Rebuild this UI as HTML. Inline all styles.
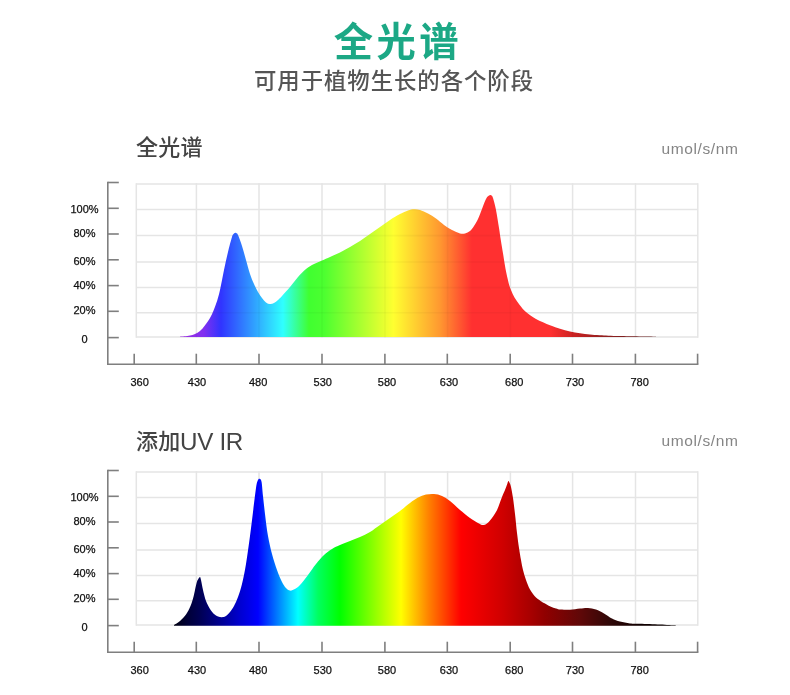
<!DOCTYPE html>
<html lang="zh-CN">
<head>
<meta charset="utf-8">
<title>全光谱</title>
<style>
html,body{margin:0;padding:0;background:#fff;}
body{width:790px;height:695px;position:relative;overflow:hidden;font-family:"Liberation Sans","Noto Sans CJK SC",sans-serif;}
svg{position:absolute;left:0;top:0;display:block;}
.ax text{font-family:"Liberation Sans",sans-serif;font-size:11px;fill:#111;stroke:#111;stroke-width:0.25px;}
.t{position:absolute;white-space:nowrap;line-height:1;}
#title{left:2.8px;width:790px;text-align:center;top:22.6px;font-size:39.3px;font-weight:bold;color:#1ca885;letter-spacing:3.4px;}
#sub{left:-1px;width:790px;text-align:center;top:71.2px;font-size:22.4px;font-weight:500;color:#555;letter-spacing:0.95px;}
.h{font-size:22px;color:#444;left:136px;letter-spacing:0.3px;font-weight:500;}
.h span{position:relative;top:1.1px;left:-0.5px;font-size:24.2px;font-weight:400;letter-spacing:-0.35px;font-family:"Liberation Sans",sans-serif;}
.u{font-size:15.5px;color:#858585;right:51.6px;font-family:"Liberation Sans",sans-serif;letter-spacing:0.6px;}
</style>
</head>
<body>
<svg width="790" height="695" viewBox="0 0 790 695"><defs><linearGradient id="g1" gradientUnits="userSpaceOnUse" x1="180" y1="0" x2="656" y2="0"><stop offset="0.0000" stop-color="#a030e0"/><stop offset="0.0504" stop-color="#8030f0"/><stop offset="0.0861" stop-color="#3034ff"/><stop offset="0.2164" stop-color="#30ffff"/><stop offset="0.2710" stop-color="#40ff30"/><stop offset="0.3025" stop-color="#4cff30"/><stop offset="0.4485" stop-color="#ffff30"/><stop offset="0.5462" stop-color="#ff9830"/><stop offset="0.6134" stop-color="#ff3030"/><stop offset="0.7773" stop-color="#ff3030"/><stop offset="0.8298" stop-color="#c82222"/><stop offset="0.8824" stop-color="#982020"/><stop offset="1.0000" stop-color="#602020"/></linearGradient><linearGradient id="g2" gradientUnits="userSpaceOnUse" x1="174" y1="0" x2="676" y2="0"><stop offset="0.0000" stop-color="#000010"/><stop offset="0.0279" stop-color="#000038"/><stop offset="0.0518" stop-color="#000054"/><stop offset="0.0916" stop-color="#000090"/><stop offset="0.1315" stop-color="#0000d0"/><stop offset="0.1673" stop-color="#0000ff"/><stop offset="0.2470" stop-color="#00ffff"/><stop offset="0.2869" stop-color="#00ff60"/><stop offset="0.3307" stop-color="#00ff00"/><stop offset="0.4522" stop-color="#ffff00"/><stop offset="0.5080" stop-color="#ff8000"/><stop offset="0.5717" stop-color="#ff0000"/><stop offset="0.6534" stop-color="#d00000"/><stop offset="0.7092" stop-color="#a80000"/><stop offset="0.7390" stop-color="#900000"/><stop offset="0.8088" stop-color="#600808"/><stop offset="0.8685" stop-color="#300808"/><stop offset="0.9283" stop-color="#100000"/><stop offset="1.0000" stop-color="#080000"/></linearGradient></defs><g transform="translate(0,0)"><g stroke="#e5e5e5" stroke-width="1.5" fill="none"><line x1="136.3" y1="183.2" x2="136.3" y2="337.8"/><line x1="196.4" y1="183.2" x2="196.4" y2="337.8"/><line x1="259" y1="183.2" x2="259" y2="337.8"/><line x1="322" y1="183.2" x2="322" y2="337.8"/><line x1="385" y1="183.2" x2="385" y2="337.8"/><line x1="447.6" y1="183.2" x2="447.6" y2="337.8"/><line x1="510.4" y1="183.2" x2="510.4" y2="337.8"/><line x1="572.6" y1="183.2" x2="572.6" y2="337.8"/><line x1="635.5" y1="183.2" x2="635.5" y2="337.8"/><line x1="697.8" y1="183.2" x2="697.8" y2="337.8"/><line x1="136.3" y1="184" x2="697.8" y2="184"/><line x1="136.3" y1="209.6" x2="697.8" y2="209.6"/><line x1="136.3" y1="235.6" x2="697.8" y2="235.6"/><line x1="136.3" y1="262" x2="697.8" y2="262"/><line x1="136.3" y1="287.6" x2="697.8" y2="287.6"/><line x1="136.3" y1="312.8" x2="697.8" y2="312.8"/><line x1="136.3" y1="337" x2="697.8" y2="337"/></g><g stroke="#7f7f7f" stroke-width="1.6" fill="none"><path d="M107.8,181.7 V364.3 H698.4"/><line x1="107.8" y1="182.5" x2="118.8" y2="182.5"/><line x1="107.8" y1="208.3" x2="118.8" y2="208.3"/><line x1="107.8" y1="234" x2="118.8" y2="234"/><line x1="107.8" y1="259.8" x2="118.8" y2="259.8"/><line x1="107.8" y1="285.6" x2="118.8" y2="285.6"/><line x1="107.8" y1="311.3" x2="118.8" y2="311.3"/><line x1="107.8" y1="337.6" x2="118.8" y2="337.6"/><line x1="134.2" y1="353.7" x2="134.2" y2="364.3"/><line x1="196.3" y1="353.7" x2="196.3" y2="364.3"/><line x1="259" y1="353.7" x2="259" y2="364.3"/><line x1="322" y1="353.7" x2="322" y2="364.3"/><line x1="384.9" y1="353.7" x2="384.9" y2="364.3"/><line x1="447.3" y1="353.7" x2="447.3" y2="364.3"/><line x1="510.2" y1="353.7" x2="510.2" y2="364.3"/><line x1="572.5" y1="353.7" x2="572.5" y2="364.3"/><line x1="635.4" y1="353.7" x2="635.4" y2="364.3"/><line x1="697.6" y1="353.7" x2="697.6" y2="364.3"/></g></g><g class="ax" transform="translate(0,0)"><text x="139.6" y="385.7" text-anchor="middle">360</text><text x="197" y="385.7" text-anchor="middle">430</text><text x="258.1" y="385.7" text-anchor="middle">480</text><text x="322.8" y="385.7" text-anchor="middle">530</text><text x="387" y="385.7" text-anchor="middle">580</text><text x="449" y="385.7" text-anchor="middle">630</text><text x="514.2" y="385.7" text-anchor="middle">680</text><text x="575" y="385.7" text-anchor="middle">730</text><text x="639.6" y="385.7" text-anchor="middle">780</text><text x="84.5" y="212.8" text-anchor="middle">100%</text><text x="84.5" y="236.9" text-anchor="middle">80%</text><text x="84.5" y="264.8" text-anchor="middle">60%</text><text x="84.5" y="288.7" text-anchor="middle">40%</text><text x="84.5" y="313.9" text-anchor="middle">20%</text><text x="84.5" y="343.1" text-anchor="middle">0</text></g><path d="M180.0,336.7C181.7,336.5 186.7,336.6 190.0,335.6C193.3,334.7 196.7,333.9 200.0,331.0C203.3,328.1 207.3,322.5 210.0,318.0C212.7,313.5 214.3,308.7 216.0,304.0C217.7,299.3 218.7,295.7 220.0,290.0C221.3,284.3 222.7,276.3 224.0,270.0C225.3,263.7 226.7,257.5 228.0,252.0C229.3,246.5 231.0,240.1 232.0,237.0C233.0,233.9 233.3,234.1 234.0,233.4C234.7,232.7 235.3,232.7 236.0,233.0C236.7,233.3 237.0,232.8 238.0,235.0C239.0,237.2 240.7,241.8 242.0,246.0C243.3,250.2 244.7,255.3 246.0,260.0C247.3,264.7 248.7,270.0 250.0,274.0C251.3,278.0 252.7,281.0 254.0,284.0C255.3,287.0 256.7,289.7 258.0,292.0C259.3,294.3 260.7,296.3 262.0,298.0C263.3,299.7 264.7,301.4 266.0,302.4C267.3,303.4 268.7,303.9 270.0,304.0C271.3,304.1 272.7,303.7 274.0,303.0C275.3,302.3 276.7,301.2 278.0,300.0C279.3,298.8 280.0,298.2 282.0,296.0C284.0,293.8 287.3,290.2 290.0,287.0C292.7,283.8 295.3,280.0 298.0,277.0C300.7,274.0 303.3,271.2 306.0,269.0C308.7,266.8 311.3,265.4 314.0,264.0C316.7,262.6 319.3,261.8 322.0,260.6C324.7,259.4 327.0,258.4 330.0,257.0C333.0,255.6 336.7,254.1 340.0,252.4C343.3,250.7 346.7,248.9 350.0,247.0C353.3,245.1 356.7,243.2 360.0,241.0C363.3,238.8 366.7,236.3 370.0,234.0C373.3,231.7 376.7,229.3 380.0,227.0C383.3,224.7 386.7,222.2 390.0,220.0C393.3,217.8 397.0,215.6 400.0,214.0C403.0,212.4 405.7,211.2 408.0,210.4C410.3,209.6 412.0,209.3 414.0,209.2C416.0,209.1 417.7,209.3 420.0,210.0C422.3,210.7 425.3,212.2 428.0,213.6C430.7,215.0 433.3,216.7 436.0,218.6C438.7,220.5 441.3,223.1 444.0,225.0C446.7,226.9 449.3,228.6 452.0,230.0C454.7,231.4 457.8,232.8 460.0,233.4C462.2,234.0 463.3,233.8 465.0,233.4C466.7,233.0 468.5,232.2 470.0,231.0C471.5,229.8 472.7,228.0 474.0,226.0C475.3,224.0 476.7,221.8 478.0,219.0C479.3,216.2 480.7,212.3 482.0,209.0C483.3,205.7 484.8,201.2 486.0,199.0C487.2,196.8 488.2,196.2 489.0,195.6C489.8,195.0 490.3,194.8 491.0,195.2C491.7,195.6 492.2,195.5 493.0,198.0C493.8,200.5 495.0,205.0 496.0,210.0C497.0,215.0 498.2,223.0 499.0,228.0C499.8,233.0 500.1,235.6 500.8,240.0C501.5,244.4 502.4,249.6 503.2,254.4C504.0,259.2 504.6,264.0 505.5,268.8C506.4,273.6 507.8,279.6 508.7,283.2C509.6,286.8 510.2,288.0 511.2,290.4C512.2,292.8 513.1,295.2 514.5,297.6C515.9,300.0 517.6,302.3 519.5,304.7C521.4,307.1 523.2,309.6 526.0,312.0C528.8,314.4 532.0,316.8 536.0,319.0C540.0,321.2 546.0,323.7 550.0,325.3C554.0,326.9 556.7,327.8 560.0,328.8C563.3,329.9 566.7,330.9 570.0,331.6C573.3,332.3 576.7,332.7 580.0,333.2C583.3,333.7 586.7,334.1 590.0,334.4C593.3,334.7 595.0,334.9 600.0,335.2C605.0,335.5 610.7,335.8 620.0,336.0C629.3,336.2 650.0,336.6 656.0,336.7L656.0,337.0 L180.0,337.0 Z" fill="url(#g1)"/><clipPath id="cg1"><path d="M180.0,336.7C181.7,336.5 186.7,336.6 190.0,335.6C193.3,334.7 196.7,333.9 200.0,331.0C203.3,328.1 207.3,322.5 210.0,318.0C212.7,313.5 214.3,308.7 216.0,304.0C217.7,299.3 218.7,295.7 220.0,290.0C221.3,284.3 222.7,276.3 224.0,270.0C225.3,263.7 226.7,257.5 228.0,252.0C229.3,246.5 231.0,240.1 232.0,237.0C233.0,233.9 233.3,234.1 234.0,233.4C234.7,232.7 235.3,232.7 236.0,233.0C236.7,233.3 237.0,232.8 238.0,235.0C239.0,237.2 240.7,241.8 242.0,246.0C243.3,250.2 244.7,255.3 246.0,260.0C247.3,264.7 248.7,270.0 250.0,274.0C251.3,278.0 252.7,281.0 254.0,284.0C255.3,287.0 256.7,289.7 258.0,292.0C259.3,294.3 260.7,296.3 262.0,298.0C263.3,299.7 264.7,301.4 266.0,302.4C267.3,303.4 268.7,303.9 270.0,304.0C271.3,304.1 272.7,303.7 274.0,303.0C275.3,302.3 276.7,301.2 278.0,300.0C279.3,298.8 280.0,298.2 282.0,296.0C284.0,293.8 287.3,290.2 290.0,287.0C292.7,283.8 295.3,280.0 298.0,277.0C300.7,274.0 303.3,271.2 306.0,269.0C308.7,266.8 311.3,265.4 314.0,264.0C316.7,262.6 319.3,261.8 322.0,260.6C324.7,259.4 327.0,258.4 330.0,257.0C333.0,255.6 336.7,254.1 340.0,252.4C343.3,250.7 346.7,248.9 350.0,247.0C353.3,245.1 356.7,243.2 360.0,241.0C363.3,238.8 366.7,236.3 370.0,234.0C373.3,231.7 376.7,229.3 380.0,227.0C383.3,224.7 386.7,222.2 390.0,220.0C393.3,217.8 397.0,215.6 400.0,214.0C403.0,212.4 405.7,211.2 408.0,210.4C410.3,209.6 412.0,209.3 414.0,209.2C416.0,209.1 417.7,209.3 420.0,210.0C422.3,210.7 425.3,212.2 428.0,213.6C430.7,215.0 433.3,216.7 436.0,218.6C438.7,220.5 441.3,223.1 444.0,225.0C446.7,226.9 449.3,228.6 452.0,230.0C454.7,231.4 457.8,232.8 460.0,233.4C462.2,234.0 463.3,233.8 465.0,233.4C466.7,233.0 468.5,232.2 470.0,231.0C471.5,229.8 472.7,228.0 474.0,226.0C475.3,224.0 476.7,221.8 478.0,219.0C479.3,216.2 480.7,212.3 482.0,209.0C483.3,205.7 484.8,201.2 486.0,199.0C487.2,196.8 488.2,196.2 489.0,195.6C489.8,195.0 490.3,194.8 491.0,195.2C491.7,195.6 492.2,195.5 493.0,198.0C493.8,200.5 495.0,205.0 496.0,210.0C497.0,215.0 498.2,223.0 499.0,228.0C499.8,233.0 500.1,235.6 500.8,240.0C501.5,244.4 502.4,249.6 503.2,254.4C504.0,259.2 504.6,264.0 505.5,268.8C506.4,273.6 507.8,279.6 508.7,283.2C509.6,286.8 510.2,288.0 511.2,290.4C512.2,292.8 513.1,295.2 514.5,297.6C515.9,300.0 517.6,302.3 519.5,304.7C521.4,307.1 523.2,309.6 526.0,312.0C528.8,314.4 532.0,316.8 536.0,319.0C540.0,321.2 546.0,323.7 550.0,325.3C554.0,326.9 556.7,327.8 560.0,328.8C563.3,329.9 566.7,330.9 570.0,331.6C573.3,332.3 576.7,332.7 580.0,333.2C583.3,333.7 586.7,334.1 590.0,334.4C593.3,334.7 595.0,334.9 600.0,335.2C605.0,335.5 610.7,335.8 620.0,336.0C629.3,336.2 650.0,336.6 656.0,336.7L656.0,337.0 L180.0,337.0 Z"/></clipPath><g clip-path="url(#cg1)"><g stroke="#000" stroke-opacity="0.03" stroke-width="1.6" fill="none" transform="translate(0,0)"><line x1="136.3" y1="184" x2="136.3" y2="337"/><line x1="196.4" y1="184" x2="196.4" y2="337"/><line x1="259" y1="184" x2="259" y2="337"/><line x1="322" y1="184" x2="322" y2="337"/><line x1="385" y1="184" x2="385" y2="337"/><line x1="447.6" y1="184" x2="447.6" y2="337"/><line x1="510.4" y1="184" x2="510.4" y2="337"/><line x1="572.6" y1="184" x2="572.6" y2="337"/><line x1="635.5" y1="184" x2="635.5" y2="337"/><line x1="697.8" y1="184" x2="697.8" y2="337"/><line x1="136.3" y1="184" x2="697.8" y2="184"/><line x1="136.3" y1="209.6" x2="697.8" y2="209.6"/><line x1="136.3" y1="235.6" x2="697.8" y2="235.6"/><line x1="136.3" y1="262" x2="697.8" y2="262"/><line x1="136.3" y1="287.6" x2="697.8" y2="287.6"/><line x1="136.3" y1="312.8" x2="697.8" y2="312.8"/></g></g><g transform="translate(0,288)"><g stroke="#e5e5e5" stroke-width="1.5" fill="none"><line x1="136.3" y1="183.2" x2="136.3" y2="337.8"/><line x1="196.4" y1="183.2" x2="196.4" y2="337.8"/><line x1="259" y1="183.2" x2="259" y2="337.8"/><line x1="322" y1="183.2" x2="322" y2="337.8"/><line x1="385" y1="183.2" x2="385" y2="337.8"/><line x1="447.6" y1="183.2" x2="447.6" y2="337.8"/><line x1="510.4" y1="183.2" x2="510.4" y2="337.8"/><line x1="572.6" y1="183.2" x2="572.6" y2="337.8"/><line x1="635.5" y1="183.2" x2="635.5" y2="337.8"/><line x1="697.8" y1="183.2" x2="697.8" y2="337.8"/><line x1="136.3" y1="184" x2="697.8" y2="184"/><line x1="136.3" y1="209.6" x2="697.8" y2="209.6"/><line x1="136.3" y1="235.6" x2="697.8" y2="235.6"/><line x1="136.3" y1="262" x2="697.8" y2="262"/><line x1="136.3" y1="287.6" x2="697.8" y2="287.6"/><line x1="136.3" y1="312.8" x2="697.8" y2="312.8"/><line x1="136.3" y1="337" x2="697.8" y2="337"/></g><g stroke="#7f7f7f" stroke-width="1.6" fill="none"><path d="M107.8,181.7 V364.3 H698.4"/><line x1="107.8" y1="182.5" x2="118.8" y2="182.5"/><line x1="107.8" y1="208.3" x2="118.8" y2="208.3"/><line x1="107.8" y1="234" x2="118.8" y2="234"/><line x1="107.8" y1="259.8" x2="118.8" y2="259.8"/><line x1="107.8" y1="285.6" x2="118.8" y2="285.6"/><line x1="107.8" y1="311.3" x2="118.8" y2="311.3"/><line x1="107.8" y1="337.6" x2="118.8" y2="337.6"/><line x1="134.2" y1="353.7" x2="134.2" y2="364.3"/><line x1="196.3" y1="353.7" x2="196.3" y2="364.3"/><line x1="259" y1="353.7" x2="259" y2="364.3"/><line x1="322" y1="353.7" x2="322" y2="364.3"/><line x1="384.9" y1="353.7" x2="384.9" y2="364.3"/><line x1="447.3" y1="353.7" x2="447.3" y2="364.3"/><line x1="510.2" y1="353.7" x2="510.2" y2="364.3"/><line x1="572.5" y1="353.7" x2="572.5" y2="364.3"/><line x1="635.4" y1="353.7" x2="635.4" y2="364.3"/><line x1="697.6" y1="353.7" x2="697.6" y2="364.3"/></g></g><g class="ax" transform="translate(0,288)"><text x="139.6" y="385.7" text-anchor="middle">360</text><text x="197" y="385.7" text-anchor="middle">430</text><text x="258.1" y="385.7" text-anchor="middle">480</text><text x="322.8" y="385.7" text-anchor="middle">530</text><text x="387" y="385.7" text-anchor="middle">580</text><text x="449" y="385.7" text-anchor="middle">630</text><text x="514.2" y="385.7" text-anchor="middle">680</text><text x="575" y="385.7" text-anchor="middle">730</text><text x="639.6" y="385.7" text-anchor="middle">780</text><text x="84.5" y="212.8" text-anchor="middle">100%</text><text x="84.5" y="236.9" text-anchor="middle">80%</text><text x="84.5" y="264.8" text-anchor="middle">60%</text><text x="84.5" y="288.7" text-anchor="middle">40%</text><text x="84.5" y="313.9" text-anchor="middle">20%</text><text x="84.5" y="343.1" text-anchor="middle">0</text></g><path d="M174.0,625.0C175.0,624.3 178.0,622.8 180.0,621.0C182.0,619.2 184.2,617.0 186.0,614.5C187.8,612.0 189.2,609.1 190.5,606.0C191.8,602.9 192.7,599.8 193.7,596.0C194.7,592.2 195.8,585.8 196.6,583.0C197.4,580.2 197.7,580.0 198.3,579.0C198.9,578.0 199.6,576.8 200.0,577.0C200.4,577.2 200.5,577.8 201.0,580.0C201.5,582.2 202.2,586.5 203.0,590.0C203.8,593.5 204.8,597.8 206.0,601.0C207.2,604.2 208.7,606.8 210.0,609.0C211.3,611.2 212.7,612.8 214.0,614.0C215.3,615.2 216.7,615.9 218.0,616.4C219.3,616.9 220.7,617.3 222.0,617.2C223.3,617.1 224.7,616.9 226.0,616.0C227.3,615.1 228.7,613.7 230.0,612.0C231.3,610.3 232.7,608.5 234.0,606.0C235.3,603.5 236.7,600.7 238.0,597.0C239.3,593.3 240.7,589.5 242.0,584.0C243.3,578.5 244.7,572.0 246.0,564.0C247.3,556.0 248.8,544.7 250.0,536.0C251.2,527.3 252.0,520.0 253.0,512.0C254.0,504.0 255.2,493.3 256.0,488.0C256.8,482.7 257.3,481.5 258.0,480.0C258.7,478.5 259.4,478.7 260.0,479.0C260.6,479.3 261.1,479.2 261.6,482.0C262.1,484.8 262.4,490.7 263.0,496.0C263.6,501.3 264.2,507.3 265.0,514.0C265.8,520.7 266.8,529.3 268.0,536.0C269.2,542.7 270.5,548.3 272.0,554.0C273.5,559.7 275.3,565.3 277.0,570.0C278.7,574.7 280.5,579.0 282.0,582.0C283.5,585.0 284.7,586.6 286.0,588.0C287.3,589.4 288.5,590.4 290.0,590.6C291.5,590.8 293.3,589.9 295.0,589.0C296.7,588.1 297.8,587.3 300.0,585.0C302.2,582.7 305.3,578.5 308.0,575.0C310.7,571.5 313.3,567.3 316.0,564.0C318.7,560.7 321.3,557.5 324.0,555.0C326.7,552.5 329.3,550.7 332.0,549.0C334.7,547.3 337.0,546.3 340.0,545.0C343.0,543.7 346.7,542.3 350.0,541.0C353.3,539.7 356.7,538.5 360.0,537.0C363.3,535.5 366.7,534.0 370.0,532.0C373.3,530.0 376.7,527.3 380.0,525.0C383.3,522.7 386.7,520.3 390.0,518.0C393.3,515.7 396.7,513.5 400.0,511.0C403.3,508.5 407.0,505.2 410.0,503.0C413.0,500.8 415.3,499.0 418.0,497.6C420.7,496.2 423.3,495.2 426.0,494.6C428.7,494.0 431.3,493.8 434.0,494.0C436.7,494.2 439.3,494.8 442.0,496.0C444.7,497.2 447.0,498.7 450.0,501.0C453.0,503.3 456.7,507.2 460.0,510.0C463.3,512.8 467.0,515.8 470.0,518.0C473.0,520.2 475.7,521.8 478.0,523.0C480.3,524.2 482.0,525.4 484.0,525.0C486.0,524.6 487.9,522.9 490.0,520.5C492.1,518.1 494.8,514.4 496.8,510.5C498.8,506.6 500.5,500.7 501.9,497.3C503.2,493.9 504.0,492.6 504.9,490.3C505.8,488.0 506.8,484.9 507.4,483.4C508.0,481.8 508.1,481.1 508.4,481.0C508.7,480.9 509.0,481.6 509.4,482.6C509.8,483.6 510.4,484.4 511.0,487.0C511.6,489.6 512.3,493.5 513.0,498.0C513.7,502.5 514.3,508.2 515.0,514.0C515.7,519.8 516.3,527.3 517.0,533.0C517.7,538.7 518.3,543.5 519.0,548.0C519.7,552.5 520.3,556.3 521.0,560.0C521.7,563.7 522.2,566.7 523.0,570.0C523.8,573.3 524.8,576.8 526.0,580.0C527.2,583.2 528.3,586.6 530.0,589.5C531.7,592.4 534.3,595.7 536.0,597.5C537.7,599.3 538.7,599.5 540.0,600.4C541.3,601.3 542.3,602.0 544.0,603.0C545.7,604.0 548.4,605.5 550.4,606.4C552.4,607.3 554.3,607.9 556.0,608.4C557.7,608.9 558.2,609.3 560.5,609.5C562.8,609.7 566.8,609.9 570.0,609.8C573.2,609.6 577.0,608.9 580.0,608.6C583.0,608.3 585.3,607.8 588.0,608.0C590.7,608.2 593.3,608.7 596.0,609.6C598.7,610.5 601.3,612.1 604.0,613.6C606.7,615.1 609.3,617.3 612.0,618.6C614.7,619.9 617.0,620.8 620.0,621.6C623.0,622.4 626.7,623.0 630.0,623.4C633.3,623.8 635.0,623.6 640.0,623.8C645.0,624.0 654.0,624.3 660.0,624.6C666.0,624.9 673.3,625.4 676.0,625.5L676.0,625.7 L174.0,625.7 Z" fill="url(#g2)"/></svg>
<div class="t" id="title">全光谱</div>
<div class="t" id="sub">可用于植物生长的各个阶段</div>
<div class="t h" style="top:137px">全光谱</div>
<div class="t u" style="top:141.1px">umol/s/nm</div>
<div class="t h" style="top:428.8px">添加<span>UV IR</span></div>
<div class="t u" style="top:433.1px">umol/s/nm</div>
</body>
</html>
